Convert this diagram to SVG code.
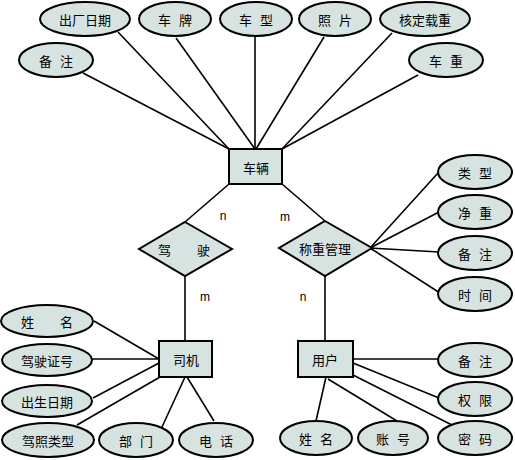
<svg xmlns="http://www.w3.org/2000/svg" width="515" height="460" viewBox="0 0 515 460">
<style>
.s{fill:#d7e3e0;stroke:#000;stroke-width:2}
.t{font-family:"Noto Sans CJK SC","Noto Sans",sans-serif;font-size:13px;fill:#000;text-anchor:middle;dominant-baseline:central}
.w{word-spacing:5px}
.c line{stroke:#000;stroke-width:1.6}
.lbl{font-family:"Liberation Sans",Arial,sans-serif;font-size:12px;fill:#000;text-anchor:middle}
</style>
<rect width="515" height="460" fill="#fff"/>
<g class="c" id="connectors">
<line x1="118" y1="32" x2="229" y2="149"/>
<line x1="83" y1="73" x2="229" y2="149"/>
<line x1="176" y1="38" x2="255" y2="149"/>
<line x1="255" y1="37" x2="255" y2="149"/>
<line x1="324" y1="37" x2="256" y2="149"/>
<line x1="392" y1="33" x2="282" y2="149"/>
<line x1="418" y1="75" x2="282" y2="149"/>
<line x1="229" y1="184" x2="185" y2="222"/>
<line x1="282" y1="184" x2="325" y2="221"/>
<line x1="185" y1="276" x2="185" y2="341"/>
<line x1="325" y1="276" x2="325" y2="341"/>
<line x1="370" y1="248" x2="438" y2="173"/>
<line x1="370" y1="248" x2="439" y2="212"/>
<line x1="370" y1="248" x2="439" y2="252"/>
<line x1="370" y1="248" x2="440" y2="293"/>
<line x1="353" y1="359" x2="439" y2="359"/>
<line x1="353" y1="363" x2="439" y2="398"/>
<line x1="353" y1="375" x2="452" y2="425"/>
<line x1="326" y1="377" x2="316" y2="421"/>
<line x1="328" y1="379" x2="397" y2="421"/>
<line x1="94" y1="321" x2="159" y2="359"/>
<line x1="92" y1="359" x2="159" y2="359"/>
<line x1="93" y1="398" x2="159" y2="363"/>
<line x1="77" y1="425" x2="160" y2="377"/>
<line x1="162" y1="427" x2="185" y2="377"/>
<line x1="214" y1="421" x2="187" y2="377"/>
</g>
<g id="labels">
<text class="lbl" x="223" y="220">n</text>
<text class="lbl" x="285" y="221">m</text>
<text class="lbl" x="205" y="301">m</text>
<text class="lbl" x="303" y="301">n</text>
</g>
<g id="vehicle"><rect class="s" x="229" y="149" width="53" height="35"/><text class="t" x="256" y="167">车辆</text></g>
<g id="driver"><rect class="s" x="159" y="341" width="53" height="36"/><text class="t" x="186" y="359">司机</text></g>
<g id="user"><rect class="s" x="298" y="341" width="55" height="36"/><text class="t" x="325" y="359">用户</text></g>
<g id="drive"><polygon class="s" points="185,222 232,249 185,276 139,249"/><text class="t" x="184" y="249">驾　　驶</text></g>
<g id="weigh"><polygon class="s" points="325,221 372,248 325,276 279,248"/><text class="t" x="325" y="248">称重管理</text></g>
<g id="a1"><ellipse class="s" cx="85" cy="19" rx="45" ry="17"/><text class="t" x="85" y="19">出厂日期</text></g>
<g id="a2"><ellipse class="s" cx="175" cy="19" rx="36" ry="17"/><text class="t w" x="175" y="19">车 牌</text></g>
<g id="a3"><ellipse class="s" cx="256" cy="19" rx="36" ry="17"/><text class="t w" x="256" y="19">车 型</text></g>
<g id="a4"><ellipse class="s" cx="335" cy="19" rx="36" ry="17"/><text class="t w" x="335" y="19">照 片</text></g>
<g id="a5"><ellipse class="s" cx="425" cy="19" rx="45" ry="17"/><text class="t" x="425" y="19">核定载重</text></g>
<g id="a6"><ellipse class="s" cx="56" cy="60" rx="37" ry="17"/><text class="t w" x="56" y="60">备 注</text></g>
<g id="a7"><ellipse class="s" cx="446" cy="60" rx="37" ry="17"/><text class="t w" x="446" y="60">车 重</text></g>
<g id="b1"><ellipse class="s" cx="475" cy="172" rx="37" ry="17"/><text class="t w" x="475" y="172">类 型</text></g>
<g id="b2"><ellipse class="s" cx="475" cy="212" rx="37" ry="17"/><text class="t w" x="475" y="212">净 重</text></g>
<g id="b3"><ellipse class="s" cx="475" cy="253" rx="37" ry="17"/><text class="t w" x="475" y="253">备 注</text></g>
<g id="b4"><ellipse class="s" cx="475" cy="294" rx="37" ry="17"/><text class="t w" x="475" y="294">时 间</text></g>
<g id="u1"><ellipse class="s" cx="475" cy="360" rx="37" ry="17"/><text class="t w" x="475" y="360">备 注</text></g>
<g id="u2"><ellipse class="s" cx="475" cy="399" rx="37" ry="17"/><text class="t w" x="475" y="399">权 限</text></g>
<g id="u3"><ellipse class="s" cx="475" cy="438" rx="37" ry="17"/><text class="t w" x="475" y="438">密 码</text></g>
<g id="u4"><ellipse class="s" cx="316" cy="438" rx="36" ry="17"/><text class="t w" x="316" y="438">姓 名</text></g>
<g id="u5"><ellipse class="s" cx="393" cy="438" rx="35" ry="17"/><text class="t w" x="393" y="438">账 号</text></g>
<g id="d1"><ellipse class="s" cx="47" cy="321" rx="46" ry="16"/><text class="t" x="47" y="321">姓　　名</text></g>
<g id="d2"><ellipse class="s" cx="47" cy="360" rx="45" ry="16"/><text class="t" x="47" y="360">驾驶证号</text></g>
<g id="d3"><ellipse class="s" cx="47" cy="401" rx="45" ry="16"/><text class="t" x="47" y="401">出生日期</text></g>
<g id="d4"><ellipse class="s" cx="48" cy="440" rx="46" ry="17"/><text class="t" x="48" y="440">驾照类型</text></g>
<g id="d5"><ellipse class="s" cx="136" cy="440" rx="37" ry="17"/><text class="t w" x="136" y="440">部 门</text></g>
<g id="d6"><ellipse class="s" cx="216" cy="440" rx="37" ry="17"/><text class="t w" x="216" y="440">电 话</text></g>
</svg>
